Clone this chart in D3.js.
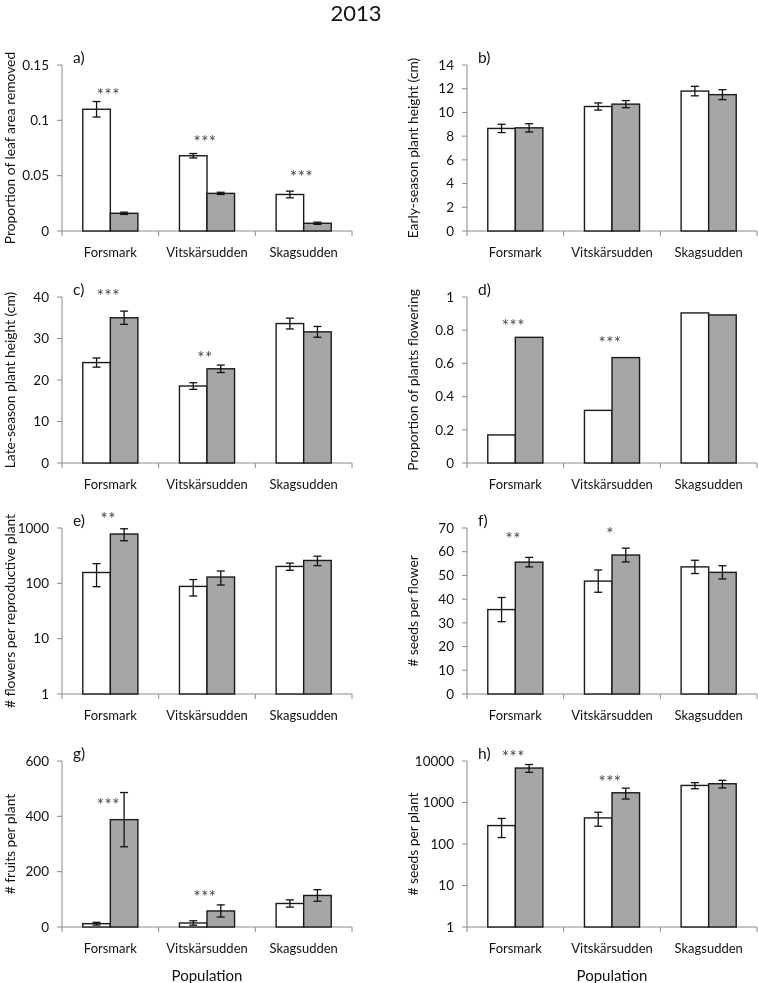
<!DOCTYPE html>
<html>
<head>
    <meta charset="utf-8">
    <title>2013</title>
    <script src="https://d3js.org/d3.v7.min.js"></script>
    <style>
        body { margin: 0; background: #fff; }
        svg { will-change: transform; }
        text { font-family: Lato, 'Open Sans', sans-serif; fill: #111; }
        .star { fill: #444; }
    </style>
</head>
<body>
<svg width="758" height="983"></svg>
<script>
// DATA ========================================================
const populations = ["Forsmark", "Vitskärsudden", "Skagsudden"];

// a) proportion of leaf area removed
const leafWhite = [0.110, 0.068, 0.033];
const leafWhiteErr = [0.007, 0.002, 0.003];
const leafGrey = [0.016, 0.034, 0.007];
const leafGreyErr = [0.001, 0.001, 0.001];
const leafStars = ["***", "***", "***"];
const leafStarY = [0.125, 0.0826, 0.0512];

// b) early-season plant height
const earlyWhite = [8.65, 10.5, 11.8];
const earlyWhiteErr = [0.35, 0.3, 0.4];
const earlyGrey = [8.7, 10.7, 11.5];
const earlyGreyErr = [0.35, 0.3, 0.42];
const earlyStars = ["", "", ""];
const earlyStarY = [0, 0, 0];

// c) late-season plant height
const lateWhite = [24.2, 18.55, 33.6];
const lateWhiteErr = [1.1, 0.8, 1.3];
const lateGrey = [35.0, 22.7, 31.6];
const lateGreyErr = [1.6, 0.9, 1.3];
const lateStars = ["***", "**", ""];
const lateStarY = [40.8, 25.8, 0];

// d) proportion of plants flowering
const flowWhite = [0.169, 0.317, 0.904];
const flowGrey = [0.757, 0.635, 0.892];
const flowStars = ["***", "***", ""];
const flowStarY = [0.839, 0.737, 0];

// e) flowers per reproductive plant
const flowersWhite = [157, 88, 202];
const flowersWhiteErr = [70, 29, 30];
const flowersGrey = [778, 130, 259];
const flowersGreyErr = [190, 37, 50];
const flowersStars = ["**", "", ""];
const flowersStarY = [1620, 0, 0];

// f) seeds per flower
const spfWhite = [35.6, 47.6, 53.6];
const spfWhiteErr = [5.1, 4.7, 2.8];
const spfGrey = [55.6, 58.6, 51.3];
const spfGreyErr = [2.0, 2.9, 2.8];
const spfStars = ["**", "*", ""];
const spfStarY = [66.5, 68.6, 0];

// g) fruits per plant
const fruitWhite = [12, 14.5, 85];
const fruitWhiteErr = [5, 8, 13];
const fruitGrey = [388, 58, 114];
const fruitGreyErr = [98, 22, 21];
const fruitStars = ["***", "***", ""];
const fruitStarY = [450, 119, 0];

// h) seeds per plant
const sppWhite = [278, 425, 2577];
const sppWhiteErr = [135, 157, 430];
const sppGrey = [6770, 1714, 2830];
const sppGreyErr = [1450, 500, 590];
const sppStars = ["***", "***", ""];
const sppStarY = [14500, 3540, 0];

// PANELS ======================================================
const panels = [
    {letter: "a)", label: "Proportion of leaf area removed", domain: [0, 0.15], ticks: [0, 0.05, 0.1, 0.15],
     white: leafWhite, whiteErr: leafWhiteErr, grey: leafGrey, greyErr: leafGreyErr, stars: leafStars, starY: leafStarY},
    {letter: "b)", label: "Early-season plant height (cm)", domain: [0, 14], ticks: d3.range(0, 15, 2),
     white: earlyWhite, whiteErr: earlyWhiteErr, grey: earlyGrey, greyErr: earlyGreyErr, stars: earlyStars, starY: earlyStarY},
    {letter: "c)", label: "Late-season plant height (cm)", domain: [0, 40], ticks: d3.range(0, 41, 10),
     white: lateWhite, whiteErr: lateWhiteErr, grey: lateGrey, greyErr: lateGreyErr, stars: lateStars, starY: lateStarY},
    {letter: "d)", label: "Proportion of plants flowering", domain: [0, 1], ticks: [0, 0.2, 0.4, 0.6, 0.8, 1],
     white: flowWhite, whiteErr: null, grey: flowGrey, greyErr: null, stars: flowStars, starY: flowStarY},
    {letter: "e)", label: "# flowers per reproductive plant", log: true, domain: [1, 1000], ticks: [1, 10, 100, 1000],
     white: flowersWhite, whiteErr: flowersWhiteErr, grey: flowersGrey, greyErr: flowersGreyErr, stars: flowersStars, starY: flowersStarY},
    {letter: "f)", label: "# seeds per flower", domain: [0, 70], ticks: d3.range(0, 71, 10),
     white: spfWhite, whiteErr: spfWhiteErr, grey: spfGrey, greyErr: spfGreyErr, stars: spfStars, starY: spfStarY},
    {letter: "g)", label: "# fruits per plant", domain: [0, 600], ticks: [0, 200, 400, 600],
     white: fruitWhite, whiteErr: fruitWhiteErr, grey: fruitGrey, greyErr: fruitGreyErr, stars: fruitStars, starY: fruitStarY},
    {letter: "h)", label: "# seeds per plant", log: true, domain: [1, 10000], ticks: [1, 10, 100, 1000, 10000],
     white: sppWhite, whiteErr: sppWhiteErr, grey: sppGrey, greyErr: sppGreyErr, stars: sppStars, starY: sppStarY}
];

// LAYOUT ======================================================
const svg = d3.select("svg");
const colX = [62, 467];
const rowY = [65, 297, 528, 761];
const plotW = 290;
const plotH = 166;
const axisColor = "#8a8a8a";

svg.append("rect").attr("width", 758).attr("height", 983).attr("fill", "#fff");

svg.append("text")
    .attr("x", 356).attr("y", 21)
    .attr("text-anchor", "middle")
    .attr("font-size", 22)
    .text("2013");

panels.forEach((p, i) => {
    const col = i % 2, row = Math.floor(i / 2);
    const g = svg.append("g").attr("transform", `translate(${colX[col]},${rowY[row]})`);

    const x = d3.scaleBand().domain(populations).range([0, plotW]);
    const y = (p.log ? d3.scaleLog() : d3.scaleLinear()).domain(p.domain).range([plotH, 0]);
    const sub = d3.scaleBand().domain(["white", "grey"]).range([0, x.bandwidth() * 0.57]);
    const off = x.bandwidth() * (1 - 0.57) / 2;

    const rows = populations.map((pop, k) => [
        {pop, k, key: "white", v: p.white[k], e: p.whiteErr ? p.whiteErr[k] : null},
        {pop, k, key: "grey", v: p.grey[k], e: p.greyErr ? p.greyErr[k] : null}
    ]).flat();

    // y axis
    g.append("line").attr("x1", 0).attr("x2", 0).attr("y1", 0).attr("y2", plotH)
        .attr("stroke", axisColor);
    const yt = g.append("g").selectAll("g").data(p.ticks).join("g")
        .attr("transform", d => `translate(0,${y(d)})`);
    yt.append("line").attr("x1", -5).attr("x2", 0).attr("stroke", axisColor);
    yt.append("text").attr("x", -13).attr("dy", "0.35em")
        .attr("text-anchor", "end").attr("font-size", 13.5)
        .text(d => String(d));

    // x axis
    g.append("line").attr("x1", 0).attr("x2", plotW).attr("y1", plotH).attr("y2", plotH)
        .attr("stroke", axisColor);
    g.append("g").selectAll("line").data(d3.range(populations.length + 1)).join("line")
        .attr("x1", d => d * x.step()).attr("x2", d => d * x.step())
        .attr("y1", plotH).attr("y2", plotH + 5)
        .attr("stroke", axisColor);
    g.append("g").selectAll("text").data(populations).join("text")
        .attr("x", d => x(d) + x.bandwidth() / 2)
        .attr("y", plotH + 26)
        .attr("text-anchor", "middle").attr("font-size", 13)
        .text(d => d);

    // bars
    g.append("g").selectAll("rect").data(rows).join("rect")
        .attr("x", d => x(d.pop) + off + sub(d.key))
        .attr("width", sub.bandwidth())
        .attr("y", d => y(d.v))
        .attr("height", d => plotH - y(d.v))
        .attr("fill", d => d.key === "white" ? "#fff" : "#a6a6a6")
        .attr("stroke", "#1a1a1a").attr("stroke-width", 1.4);

    // error bars
    const eb = g.append("g").selectAll("g").data(rows.filter(d => d.e != null)).join("g")
        .attr("transform", d => `translate(${x(d.pop) + off + sub(d.key) + sub.bandwidth() / 2},0)`)
        .attr("stroke", "#111").attr("stroke-width", 1.3);
    eb.append("line").attr("y1", d => y(d.v + d.e)).attr("y2", d => y(d.v - d.e));
    eb.append("line").attr("x1", -4).attr("x2", 4).attr("y1", d => y(d.v + d.e)).attr("y2", d => y(d.v + d.e));
    eb.append("line").attr("x1", -4).attr("x2", 4).attr("y1", d => y(d.v - d.e)).attr("y2", d => y(d.v - d.e));

    // significance stars
    g.append("g").selectAll("text").data(populations.filter((d, k) => p.stars[k])).join("text")
        .attr("class", "star")
        .attr("x", d => x(d) + x.bandwidth() / 2 - 2)
        .attr("y", d => y(p.starY[populations.indexOf(d)]))
        .attr("dy", "0.5em")
        .attr("text-anchor", "middle").attr("font-size", 17)
        .attr("letter-spacing", 0.5)
        .text(d => p.stars[populations.indexOf(d)]);

    // panel letter
    g.append("text").attr("x", 11).attr("y", -2).attr("font-size", 15.5).text(p.letter);

    // y label
    g.append("text")
        .attr("transform", `translate(${(col === 0 ? 10 : 413) - colX[col]},${plotH / 2}) rotate(-90)`)
        .attr("dy", "0.35em")
        .attr("text-anchor", "middle").attr("font-size", 13.8)
        .text(p.label);

    if (row === 3) {
        g.append("text")
            .attr("x", plotW / 2).attr("y", plotH + 54)
            .attr("text-anchor", "middle").attr("font-size", 15)
            .text("Population");
    }
});
</script>
</body>
</html>
